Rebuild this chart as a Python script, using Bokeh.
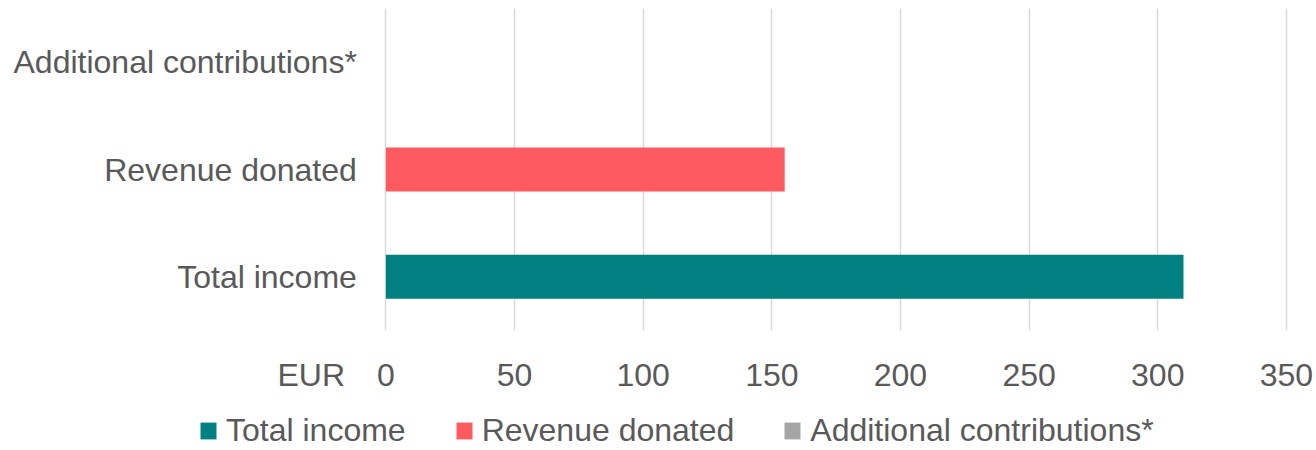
from bokeh.plotting import figure
from bokeh.layouts import column
from bokeh.models import (ColumnDataSource, Range1d, FixedTicker, Legend, LegendItem)
from bokeh.core.properties import value
from bokeh.embed import file_html
from bokeh.resources import INLINE

categories = ["Total income", "Revenue donated", "Additional contributions*"]
values = [310, 155, 0]
colors = ["#008080", "#FF5A5F", "#A5A5A5"]
x_ticks = [0, 50, 100, 150, 200, 250, 300, 350]
unit_label = "EUR"

FONT = "Liberation Sans"
TXT = "#595959"
FS = "32px"

# layout positions (in data units of the x scale)
X_START, X_END = -149.8, 361.7
LABEL_X = -11.3
UNIT_X = -29

p = figure(width=1316, height=395, y_range=categories, x_range=Range1d(X_START, X_END),
           output_backend="svg", toolbar_location=None,
           min_border_left=0, min_border_right=0, min_border_top=8, min_border_bottom=63)
p.outline_line_color = None
p.yaxis.visible = False

for cat, val, col in zip(categories, values, colors):
    src = ColumnDataSource(dict(y=[cat], right=[val]))
    p.hbar(y="y", right="right", left=0, height=0.41, source=src,
           fill_color=col, line_color=None)

# category labels
p.text(x=[LABEL_X] * len(categories), y=categories, text=categories,
       text_font=value(FONT), text_font_size=FS, text_color=TXT,
       text_align="right", text_baseline="middle")

p.xaxis.ticker = FixedTicker(ticks=[UNIT_X] + x_ticks)
p.xaxis.major_label_overrides = {UNIT_X: unit_label}
p.xaxis.axis_line_color = None
p.xaxis.major_tick_line_color = None
p.xaxis.minor_tick_line_color = None
p.xaxis.major_label_text_font = FONT
p.xaxis.major_label_text_font_size = FS
p.xaxis.major_label_text_color = TXT
p.xaxis.major_label_standoff = 20

p.xgrid.ticker = FixedTicker(ticks=x_ticks)
p.xgrid.grid_line_color = "#D9D9D9"
p.xgrid.grid_line_width = 1.5
p.ygrid.grid_line_color = None

# legend strip (zero-width swatch renderers; only the legend shows)
lg = figure(width=1316, height=55, x_range=Range1d(0, 1), y_range=Range1d(0, 1),
            output_backend="svg", toolbar_location=None,
            min_border_left=0, min_border_right=0, min_border_top=0, min_border_bottom=0)
lg.outline_line_color = None
lg.axis.visible = False
lg.grid.grid_line_color = None
leg_renderers = []
for cat, col in zip(categories, colors):
    r = lg.hbar(y=[0.5], right=[0], left=0, height=0.0, fill_color=col, line_color=None)
    leg_renderers.append(r)

legend = Legend(items=[LegendItem(label=c, renderers=[r]) for c, r in zip(categories, leg_renderers)],
                orientation="horizontal", location=(198, 1))
legend.label_text_font = FONT
legend.label_text_font_size = FS
legend.label_text_color = TXT
legend.glyph_width = 20
legend.glyph_height = 21
legend.label_standoff = 8
legend.spacing = 48
legend.padding = 0
legend.margin = 0
legend.border_line_color = None
legend.background_fill_alpha = 0
lg.add_layout(legend)

layout = column(p, lg, spacing=0)
open("out.html", "w").write(file_html(layout, INLINE))
